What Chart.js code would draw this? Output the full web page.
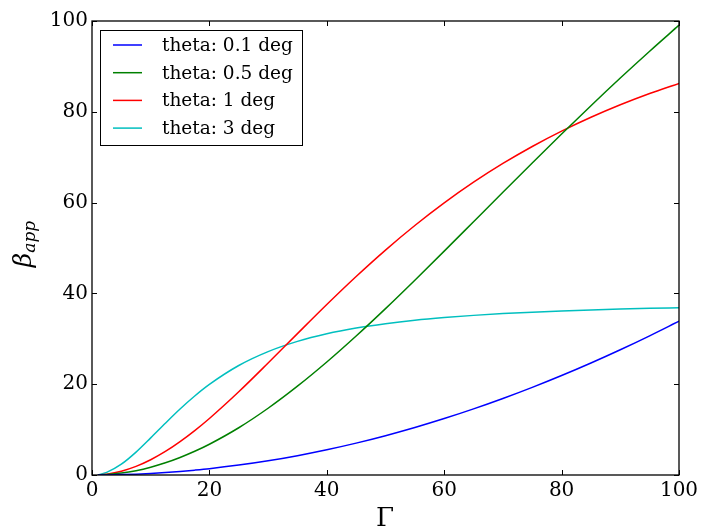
<!DOCTYPE html>
<html>
<head>
<meta charset="utf-8">
<script src="https://cdn.jsdelivr.net/npm/chart.js@4.4.1/dist/chart.umd.min.js"></script>
<style>
  body { margin: 0; background: #fff; }
  #wrap { width: 703px; height: 528px; }
</style>
</head>
<body>
<div id="wrap"><canvas id="chart" width="703" height="528"></canvas></div>
<script>
// Lorentz factor values (x axis)
var gammaVals = [1, 2.5, 5, 7.5, 10, 12.5, 15, 17.5, 20, 25, 30, 35, 40, 45, 50,
                 55, 60, 65, 70, 75, 80, 85, 90, 95, 100];

// apparent speed
var theta01 = [0, 0.02, 0.085, 0.19, 0.35, 0.54, 0.785, 1.07, 1.39, 2.18, 3.13, 4.26, 5.56, 7.02, 8.66,
               10.46, 12.43, 14.56, 16.85, 19.3, 21.91, 24.67, 27.59, 30.66, 33.87];
var theta05 = [0, 0.096, 0.42, 0.96, 1.72, 2.68, 3.86, 5.22, 6.78, 10.41, 14.7, 19.56, 24.89, 30.62, 36.65,
               42.91, 49.31, 55.79, 62.28, 68.73, 75.1, 81.35, 87.44, 93.35, 99.08];
var theta1 = [0, 0.19, 0.84, 1.9, 3.36, 5.18, 7.35, 9.78, 12.45, 18.33, 24.66, 31.14, 37.55, 43.72, 49.54,
              54.95, 59.93, 64.49, 68.62, 72.36, 75.74, 78.79, 81.55, 84.03, 86.27];
var theta3 = [0, 0.57, 2.38, 5.04, 8.17, 11.41, 14.54, 17.41, 19.96, 24.12, 27.18, 29.43, 31.11, 32.37, 33.33,
              34.09, 34.68, 35.16, 35.55, 35.87, 36.14, 36.36, 36.55, 36.71, 36.85];

var seriesNames = ["theta: 0.1 deg", "theta: 0.5 deg", "theta: 1 deg", "theta: 3 deg"];
var seriesColors = ["#0000ff", "#008000", "#ff0000", "#00bfbf"];
var tickVals = [0, 20, 40, 60, 80, 100];

var serif = "'DejaVu Serif', serif";

function pts(ys) {
  return gammaVals.map(function (g, i) { return { x: g, y: ys[i] }; });
}

var allSeries = [theta01, theta05, theta1, theta3];
var datasets = allSeries.map(function (ys, i) {
  return {
    label: seriesNames[i],
    data: pts(ys),
    borderColor: seriesColors[i],
    borderWidth: 1.5,
    pointRadius: 0,
    fill: false,
    cubicInterpolationMode: "monotone"
  };
});

// frame, inward ticks, legend box and axis titles (matplotlib look)
var decor = {
  id: "decor",
  afterDatasetsDraw: function (chart) {
    var ctx = chart.ctx;
    var a = chart.chartArea;
    var xs = chart.scales.x, ys = chart.scales.y;
    ctx.save();
    ctx.strokeStyle = "#000";
    ctx.lineWidth = 1;
    ctx.beginPath();
    tickVals.forEach(function (v) {
      var px = Math.round(xs.getPixelForValue(v)) + 0.5;
      ctx.moveTo(px, a.bottom); ctx.lineTo(px, a.bottom - 5);
      ctx.moveTo(px, a.top); ctx.lineTo(px, a.top + 5);
      var py = Math.round(ys.getPixelForValue(v)) + 0.5;
      ctx.moveTo(a.left, py); ctx.lineTo(a.left + 5, py);
      ctx.moveTo(a.right, py); ctx.lineTo(a.right - 5, py);
    });
    ctx.stroke();
    ctx.lineWidth = 1.3;
    ctx.strokeRect(a.left, a.top, a.right - a.left, a.bottom - a.top);

    // legend
    var lx = 100.5, ly = 30.5, lw = 202, lh = 115;
    ctx.fillStyle = "#fff";
    ctx.fillRect(lx, ly, lw, lh);
    ctx.lineWidth = 1;
    ctx.strokeRect(lx, ly, lw, lh);
    ctx.font = "18.5px " + serif;
    ctx.textBaseline = "middle";
    ctx.textAlign = "left";
    seriesNames.forEach(function (name, i) {
      var y = 45 + i * 27.7;
      ctx.strokeStyle = seriesColors[i];
      ctx.lineWidth = 1.5;
      ctx.beginPath();
      ctx.moveTo(113, y); ctx.lineTo(142, y);
      ctx.stroke();
      ctx.fillStyle = "#000";
      ctx.fillText(name, 162, y + 1);
    });

    // x title
    ctx.fillStyle = "#000";
    ctx.font = "26px " + serif;
    ctx.textAlign = "center";
    ctx.textBaseline = "alphabetic";
    ctx.fillText("\u0393", 385, 526);

    // y title: beta_app
    ctx.translate(31, 244);
    ctx.rotate(-Math.PI / 2);
    ctx.textAlign = "left";
    ctx.font = "italic 25px " + serif;
    var bw = ctx.measureText("\u03b2").width;
    ctx.font = "italic 17px " + serif;
    var sw = ctx.measureText("app").width;
    var x0 = -(bw + sw) / 2;
    ctx.font = "italic 25px " + serif;
    ctx.fillText("\u03b2", x0, 0);
    ctx.font = "italic 17px " + serif;
    ctx.fillText("app", x0 + bw, 4);
    ctx.restore();
  }
};

new Chart(document.getElementById("chart"), {
  type: "line",
  data: { datasets: datasets },
  options: {
    responsive: false,
    animation: false,
    layout: { padding: { top: 21, right: 24, left: 0, bottom: 0 } },
    plugins: { legend: { display: false }, tooltip: { enabled: false } },
    scales: {
      x: {
        type: "linear",
        min: 0, max: 100,
        grid: { display: false, drawTicks: false },
        border: { display: false },
        afterFit: function (s) { s.height = 53; },
        afterBuildTicks: function (s) { s.ticks = tickVals.map(function (v) { return { value: v }; }); },
        ticks: { color: "#000", font: { family: serif, size: 20 }, padding: 4, maxRotation: 0 }
      },
      y: {
        type: "linear",
        min: 0, max: 100,
        grid: { display: false, drawTicks: false },
        border: { display: false },
        afterFit: function (s) { s.width = 92; },
        afterBuildTicks: function (s) { s.ticks = tickVals.map(function (v) { return { value: v }; }); },
        ticks: { color: "#000", font: { family: serif, size: 20 }, padding: 4 }
      }
    }
  },
  plugins: [decor]
});
</script>
</body>
</html>
